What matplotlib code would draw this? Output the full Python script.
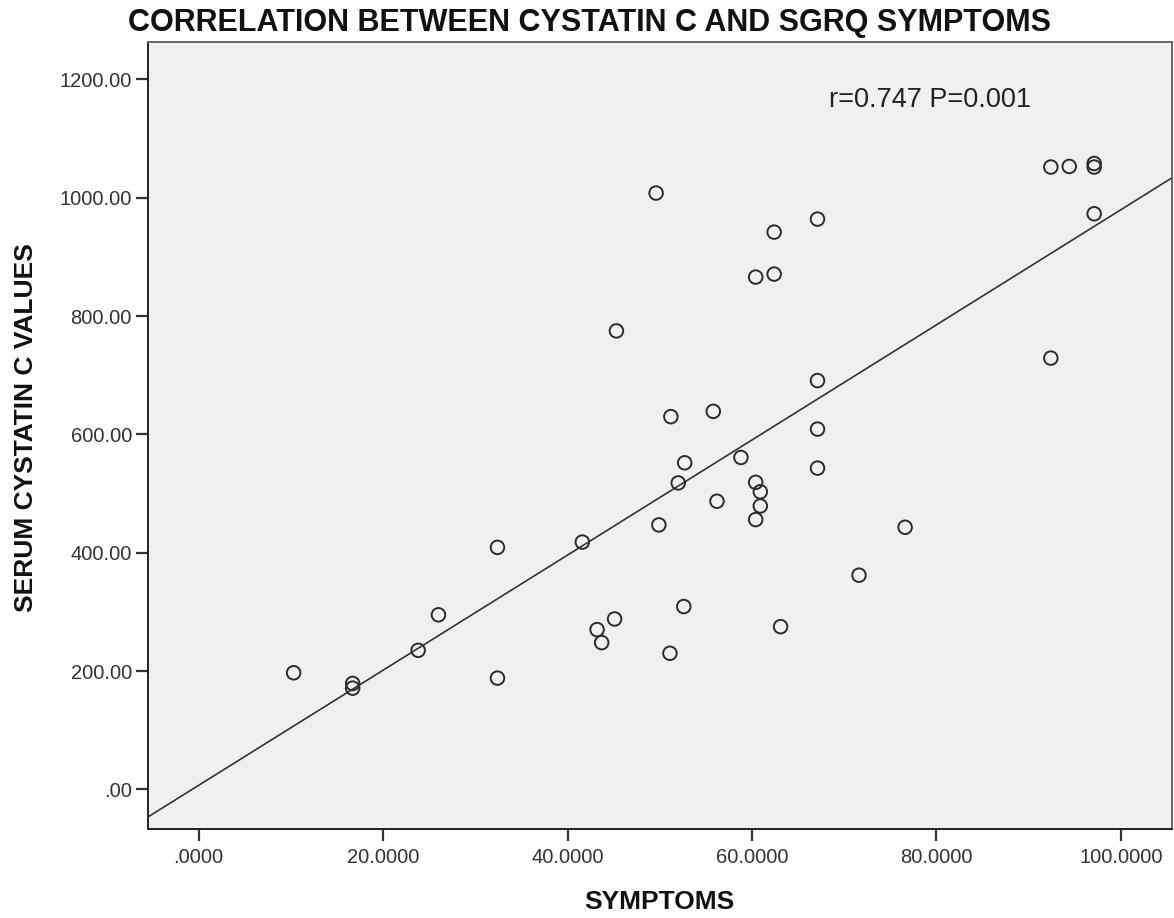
import numpy as np
import matplotlib
matplotlib.use("Agg")
import matplotlib.pyplot as plt
from matplotlib.ticker import FuncFormatter

plt.rcParams['font.family'] = ['Liberation Sans', 'DejaVu Sans']

# SGRQ symptom score vs serum cystatin C
symptoms = [10.3, 16.7, 16.7, 23.8, 26.0, 32.4, 32.4, 41.6, 43.2, 43.7,
            45.1, 45.3, 49.6, 49.9, 51.1, 51.2, 52.0, 52.6, 52.7, 55.8,
            56.2, 58.8, 60.4, 60.4, 60.4, 60.9, 60.9, 62.4, 62.4, 63.1,
            67.1, 67.1, 67.1, 67.1, 71.6, 76.6, 92.4, 92.4, 94.4, 97.1,
            97.1, 97.1]
cystatin = [197, 179, 171, 235, 295, 409, 188, 418, 270, 248,
            288, 775, 1008, 447, 230, 630, 518, 309, 552, 639,
            487, 561, 866, 519, 456, 503, 479, 942, 871, 275,
            964, 691, 609, 543, 362, 443, 1052, 729, 1053, 1058,
            1052, 973]
stat_text = "r=0.747 P=0.001"

x = np.array(symptoms)
y = np.array(cystatin)
slope, intercept = np.polyfit(x, y, 1)

fig = plt.figure(figsize=(11.74, 9.18), dpi=100)
ax = fig.add_axes([0.126, 0.097, 0.872, 0.857])
ax.set_facecolor('#f0f0f0')

ax.scatter(x, y, s=95, facecolors='none', edgecolors='#2b2b2b', linewidths=1.4, zorder=3)

xlim = (-5.5, 105.5)
xs = np.array(xlim)
ax.plot(xs, intercept + slope * xs, color='#333333', lw=1.2, zorder=2)

ax.set_xlim(*xlim)
ax.set_ylim(-67, 1263)
ax.set_xticks([0, 20, 40, 60, 80, 100])
ax.set_yticks([0, 200, 400, 600, 800, 1000, 1200])
ax.xaxis.set_major_formatter(FuncFormatter(lambda v, p: ("%.4f" % v).lstrip('0') if v == 0 else "%.4f" % v))
ax.yaxis.set_major_formatter(FuncFormatter(lambda v, p: ("%.2f" % v).lstrip('0') if v == 0 else "%.2f" % v))
ax.tick_params(direction='out', length=8.5, width=1.6, colors='#333333', labelsize=14.5, pad=3)
ax.tick_params(axis='x', pad=5)

for side in ['left', 'bottom']:
    ax.spines[side].set_color('#222222')
    ax.spines[side].set_linewidth(1.4)
for side in ['top', 'right']:
    ax.spines[side].set_color('#666666')
    ax.spines[side].set_linewidth(1.4)

ax.text(68.3, 1166, stat_text, fontsize=19.5, color='#222222', va='center', ha='left')

fig.text(0.502, 0.975, "CORRELATION BETWEEN CYSTATIN C AND SGRQ SYMPTOMS",
         ha='center', va='center', fontsize=22, fontweight='bold', color='#111111')
fig.text(0.562, 0.017, "SYMPTOMS", ha='center', va='center', fontsize=19,
         fontweight='bold', color='#111111')
fig.text(0.022, 0.534, "SERUM CYSTATIN C VALUES", ha='center', va='center',
         rotation=90, fontsize=19, fontweight='bold', color='#111111')

fig.savefig("out.png", dpi=100, facecolor='white')
